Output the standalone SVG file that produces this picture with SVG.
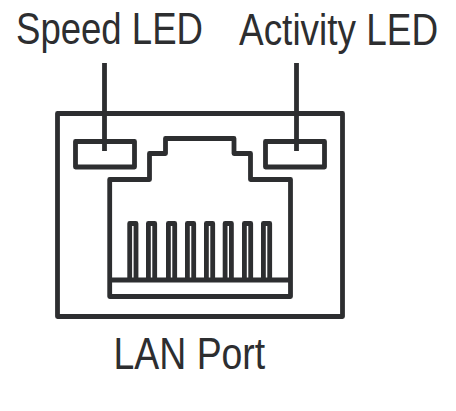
<svg xmlns="http://www.w3.org/2000/svg" width="456" height="411" viewBox="0 0 456 411">
<style>
.s{fill:none;stroke:#2d2e30;stroke-width:4.8;stroke-linejoin:round}
.t{font-family:"Liberation Sans",Arial,sans-serif;font-size:44px;fill:#2d2e30}
</style>
<rect width="456" height="411" fill="#fff"/>
<g id="port"><rect class="s" x="57.5" y="113.5" width="285" height="203"/></g>
<g id="jack">
<path class="s" d="M109.7 280H290.5M109.7 179.5H149.5V153.5H165.5V138.5H234V153.5H250.5V179.5H290.5V296.5H109.7Z"/>
<path class="s" d="M129.7 280V223.5H136V280M148.4 280V223.5H154.7V280M168.4 280V223.5H174.7V280M187.4 280V223.5H193.7V280M206.4 280V223.5H212.7V280M225.1 280V223.5H231.4V280M244.4 280V223.5H250.7V280M263.4 280V223.5H269.7V280"/>
</g>
<g id="speed-led"><rect class="s" x="75.5" y="141.5" width="59" height="25.5"/><text class="t" transform="translate(16 43.5) scale(.831 1)">Speed LED</text></g>
<g id="activity-led"><rect class="s" x="265.5" y="141.5" width="59" height="25.5"/><text class="t" transform="translate(239 45) scale(.84 1)">Activity LED</text></g>
<g id="lan-label"><text class="t" transform="translate(113.5 368.5) scale(.85 1)">LAN Port</text></g>
<g id="connectors"><path class="s" d="M104.5 63V151M296.5 63V151"/></g>
</svg>
